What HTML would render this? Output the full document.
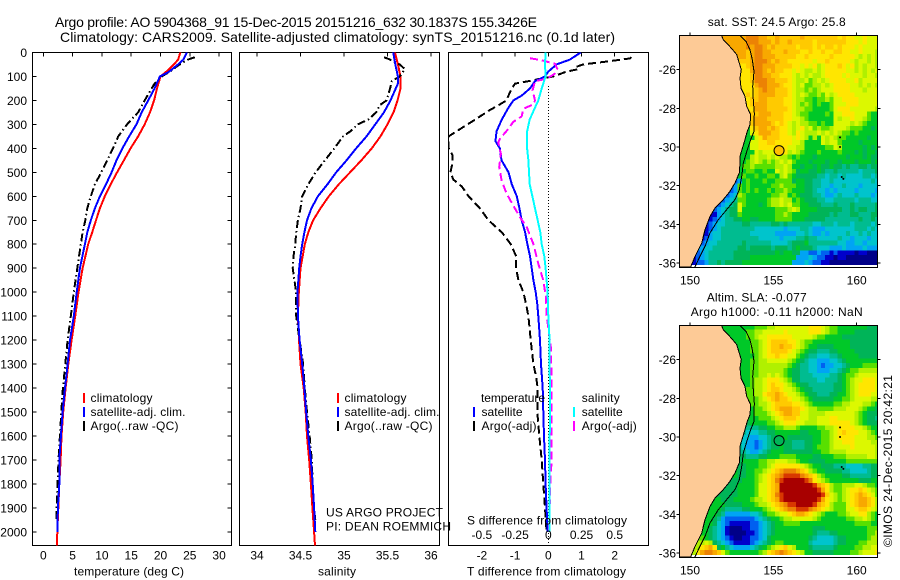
<!DOCTYPE html>
<html>
<head>
<meta charset="utf-8">
<title>Argo profile</title>
<style>
html,body{margin:0;padding:0;background:#fff;}
svg{display:block;}
text{font-family:"Liberation Sans",sans-serif;font-size:12px;fill:#000;}
.t14{font-size:14px;}
</style>
</head>
<body>
<svg id="chart" xmlns="http://www.w3.org/2000/svg" width="900" height="580" viewBox="0 0 900 580">
<defs>
<clipPath id="clip-p1"><rect x="32.5" y="52.5" width="199" height="493"/></clipPath>
<clipPath id="clip-p2"><rect x="239.5" y="52.5" width="200" height="493"/></clipPath>
<clipPath id="clip-p3"><rect x="448.5" y="52.5" width="200" height="493"/></clipPath>
<clipPath id="clip-m1"><rect x="679.5" y="35.5" width="198" height="232"/></clipPath>
<clipPath id="clip-m2"><rect x="679.5" y="325.5" width="198" height="232"/></clipPath>
</defs>
<rect x="0" y="0" width="900" height="580" fill="#fff"/>
<text class="t14" x="55" y="27" textLength="482">Argo profile: AO 5904368_91 15-Dec-2015 20151216_632 30.1837S 155.3426E</text>
<text class="t14" x="60" y="42" textLength="555">Climatology: CARS2009. Satellite-adjusted climatology: synTS_20151216.nc (0.1d later)</text>
<g id="layer-p1"></g>
<g id="layer-p2"></g>
<g id="layer-p3"></g>
<g id="layer-m1"></g>
<g id="layer-m2"></g>
<g id="labels">
<text x="74" y="575.5" textLength="110">temperature (deg C)</text>
<text x="318" y="575.5" textLength="38">salinity</text>
<text x="467" y="575.5" textLength="159">T difference from climatology</text>
<text x="467" y="524.5" textLength="160">S difference from climatology</text>
<text x="326" y="516.5" textLength="117">US ARGO PROJECT</text>
<text x="326" y="530.5" textLength="125">PI: DEAN ROEMMICH</text>
<text x="707.7" y="26" textLength="138">sat. SST: 24.5 Argo: 25.8</text>
<text x="706.7" y="301.5" textLength="100">Altim. SLA: -0.077</text>
<text x="690.7" y="316" textLength="172">Argo h1000: -0.11 h2000: NaN</text>
<text transform="translate(892,547) rotate(-90)" textLength="172">©IMOS 24-Dec-2015 20:42:21</text>
<g>
<rect x="83" y="393" width="2" height="10" fill="#ff0000"/>
<rect x="83" y="407" width="2" height="10" fill="#0000ff"/>
<rect x="83" y="421" width="2" height="10" fill="#000"/>
<text x="90.5" y="402" textLength="62">climatology</text>
<text x="90.5" y="416" textLength="95">satellite-adj. clim.</text>
<text x="90.5" y="430" textLength="88">Argo(..raw -QC)</text>
</g>
<g>
<rect x="337" y="393" width="2" height="10" fill="#ff0000"/>
<rect x="337" y="407" width="2" height="10" fill="#0000ff"/>
<rect x="337" y="421" width="2" height="10" fill="#000"/>
<text x="344.5" y="402" textLength="62">climatology</text>
<text x="344.5" y="416" textLength="95">satellite-adj. clim.</text>
<text x="344.5" y="430" textLength="88">Argo(..raw -QC)</text>
</g>
<g>
<text x="481" y="402" textLength="64">temperature</text>
<text x="581.7" y="402" textLength="38">salinity</text>
<rect x="473" y="407" width="2" height="10" fill="#0000ff"/>
<rect x="473" y="421" width="2" height="10" fill="#000"/>
<rect x="573" y="407" width="2" height="10" fill="#00ffff"/>
<rect x="573" y="421" width="2" height="10" fill="#ff00ff"/>
<text x="481.5" y="416" textLength="41">satellite</text>
<text x="481.5" y="430" textLength="55">Argo(-adj)</text>
<text x="581.7" y="416" textLength="41">satellite</text>
<text x="581.7" y="430" textLength="55">Argo(-adj)</text>
</g>
</g>
</svg>
<script>
/* ---------- tick labels ---------- */
const depthTicks = [0,100,200,300,400,500,600,700,800,900,1000,1100,1200,1300,1400,1500,1600,1700,1800,1900,2000];
const tempTicks = [0,5,10,15,20,25,30];
const salTicks = [34,34.5,35,35.5,36];
const tDiffTicks = [-2,-1,0,1,2];
const sDiffTicks = [-0.5,-0.25,0,0.25,0.5];
const lonTicks = [150,155,160];
const latTicks = [-26,-28,-30,-32,-34,-36];

/* ---------- temperature profiles ---------- */
const tempClimDepth = [0,30,50,80,100,150,200,250,300,350,400,450,500,550,600,650,700,750,800,900,1000,1100,1200,1300,1400,1500,1600,1700,1800,1900,2000,2057];
const tempClimValue = [23.4,23.0,22.3,21.0,20.0,19.4,18.9,18.2,17.3,16.2,14.9,13.75,12.6,11.5,10.5,9.66,9.0,8.35,7.67,6.7,6.0,5.45,4.83,4.26,3.8,3.4,3.1,2.95,2.73,2.56,2.39,2.33];
const tempSatDepth = [0,30,50,80,100,150,200,250,300,350,400,450,500,550,600,650,700,750,800,900,1000,1100,1200,1300,1400,1500,1600,1700,1800,1900,2000];
const tempSatValue = [24.5,23.9,23.0,21.5,19.9,19.0,17.9,16.8,15.9,14.66,13.5,12.5,11.65,10.7,9.66,8.8,8.1,7.5,7.1,6.25,5.7,5.2,4.55,4.15,3.7,3.3,3.0,2.73,2.73,2.5,2.39];
const tempArgoDepth = [20,30,50,60,80,100,130,150,200,250,300,350,400,450,500,550,600,650,700,750,800,900,1000,1100,1200,1300,1400,1500,1600,1700,1800,1900,1950];
const tempArgoValue = [25.85,24.7,23.3,22.7,21.6,20.2,19.0,18.5,17.3,16.2,14.3,12.8,11.9,10.9,9.9,8.8,8.1,7.5,7.16,6.7,6.4,5.8,5.2,4.7,4.15,3.75,3.35,3.07,2.84,2.6,2.44,2.27,2.27];

/* ---------- salinity profiles ---------- */
const salClimDepth = [0,50,100,150,200,250,300,350,400,450,500,550,600,650,700,750,800,850,900,1000,1100,1200,1300,1400,1500,1600,1700,1800,1900,2000,2057];
const salClimValue = [35.585,35.62,35.65,35.65,35.615,35.57,35.5,35.42,35.32,35.2,35.07,34.94,34.825,34.73,34.645,34.59,34.55,34.525,34.5,34.48,34.47,34.483,34.5,34.537,34.56,34.575,34.6,34.62,34.637,34.656,34.667];
const salSatDepth = [0,50,100,130,200,250,300,350,400,450,500,550,600,650,700,750,800,850,900,1000,1100,1200,1300,1400,1500,1600,1700,1800,1900,2000];
const salSatValue = [35.565,35.59,35.62,35.62,35.535,35.46,35.36,35.26,35.14,35.03,34.91,34.81,34.70,34.625,34.575,34.545,34.52,34.5,34.485,34.465,34.47,34.49,34.52,34.545,34.565,34.59,34.62,34.64,34.656,34.67];
const salArgoDepth = [20,30,50,70,100,120,150,200,220,250,280,300,330,350,400,450,500,550,600,650,700,750,800,850,900,950,1000,1100,1200,1300,1400,1500,1600,1700,1800,1900,1950];
const salArgoValue = [35.46,35.53,35.64,35.70,35.64,35.55,35.53,35.49,35.41,35.37,35.28,35.16,35.07,34.99,34.89,34.78,34.675,34.59,34.52,34.5,34.47,34.45,34.44,34.42,34.41,34.43,34.45,34.45,34.49,34.53,34.55,34.575,34.605,34.63,34.64,34.655,34.67];

/* ---------- differences from climatology ---------- */
const dtSatDepth = [0,30,50,80,100,120,150,180,200,230,280,330,370,400,450,500,550,600,650,700,750,800,850,900,950,1000,1050,1100,1200,1300,1400,1500,1600,1700,1800,1900,2000];
const dtSatValue = [0.98,0.65,0.25,0,-0.1,-0.4,-0.55,-0.8,-1.05,-1.2,-1.4,-1.56,-1.59,-1.46,-1.41,-1.2,-1.1,-0.95,-0.87,-0.8,-0.7,-0.63,-0.55,-0.5,-0.45,-0.38,-0.33,-0.3,-0.25,-0.22,-0.17,-0.15,-0.13,-0.1,-0.08,-0.05,-0.02];
const dtArgoDepth = [20,25,30,40,50,60,70,80,100,110,120,130,150,180,200,220,240,280,320,350,400,430,470,500,530,560,600,650,700,750,800,850,900,950,1000,1050,1100,1200,1300,1350,1400,1500,1600,1700,1800,1900,2000];
const dtArgoValue = [2.5,2.46,2.2,1.65,1.05,0.85,0.9,0.55,0.15,-0.25,-0.6,-1.0,-1.1,-1.2,-1.26,-1.5,-1.76,-2.2,-2.66,-3.0,-3.0,-2.88,-2.9,-2.95,-2.86,-2.6,-2.4,-2.06,-1.8,-1.4,-1.13,-0.97,-0.97,-0.9,-0.75,-0.67,-0.6,-0.53,-0.45,-0.37,-0.32,-0.33,-0.27,-0.2,-0.15,-0.1,-0.05];
const dsSatDepth = [0,50,100,150,200,230,280,330,400,450,500,550,600,650,700,750,800,850,900,1000,1100,1200,1500,1800,2000];
const dsSatValue = [-0.02,-0.025,-0.02,-0.05,-0.075,-0.1,-0.14,-0.16,-0.16,-0.15,-0.145,-0.14,-0.12,-0.1,-0.08,-0.06,-0.05,-0.03,-0.02,-0.005,0,0.01,0.012,0.008,0.008];
const dsArgoDepth = [24,33,47,68,89,110,120,158,200,217,235,267,290,318,360,374,423,478,534,589,638,687,728,798,881,951,1020,1100,1235,1400,1500,1700,1800,2000];
const dsArgoValue = [-0.138,-0.05,0.05,0.068,0.05,-0.0125,-0.1,-0.118,-0.1,-0.113,-0.188,-0.2,-0.264,-0.3,-0.364,-0.377,-0.357,-0.37,-0.352,-0.314,-0.264,-0.214,-0.163,-0.113,-0.075,-0.038,-0.018,-0.012,0.02,0.025,0.025,0.025,0.015,0.005];

/* ---------- map geography (lon / lat degrees) ---------- */
const coastLon = [151.88,152.0,152.3,152.56,152.8,152.96,153.08,153.0,153.06,153.3,153.4,153.64,153.6,153.44,153.24,153.0,153.0,152.96,152.7,152.4,152.0,151.5,151.2,150.9,150.7,150.3,150.04];
const coastLat = [-24.2,-24.45,-24.71,-24.97,-25.22,-25.66,-26,-26.43,-26.95,-27.38,-27.9,-28.33,-28.84,-29.19,-29.79,-30.48,-30.83,-31.34,-31.86,-32.29,-32.72,-33.16,-33.59,-34.28,-34.97,-35.66,-36.2];
const isobathLon = [152.96,153.36,153.6,153.74,153.84,153.76,153.8,153.86,153.84,153.64,153.44,153.2,153.1,152.96,152.7,152.2,151.7,151.2,150.9,150.5,150.3];
const isobathLat = [-24.2,-24.53,-24.97,-25.48,-26.09,-26.86,-27.55,-28.24,-29.19,-29.62,-30.14,-30.83,-31.52,-32.21,-32.72,-33.24,-33.76,-34.45,-35.14,-35.83,-36.2];
const islandLon = [159.0,159.0,159.1,159.2];
const islandLat = [-29.5,-30.0,-31.55,-31.65];
const floatLon = [155.3426];
const floatLat = [-30.1837];

/* ---------- SST grid: one char per 0.25 deg cell, '.' = under land ---------- */
const sstRows = [
"..........ddddddeeeddccdcccccdccccccccbcbbaabaaa",
"...........dddddeeedddcdccdcccccbcccccccbbbabaaa",
"............ddddedeedcdcccccbcccbcbccbcbbbabaaaa",
".............dddcdeeddcccdcccbbcbbcbbccbbaabaaa9",
"..............ddcdeedddcccccbbcbbbbbcbbbbba9a9a9",
"...............ccdeeedcdccbbbbbbabbcbbbbba9aa9a9",
"...............bcdeedddccccbbabab9abbbcbab9a9aa9",
"...............bbdeedcdccbbaba99a9abbbbbaa9a9a9a",
"...............bbceeddccbbba9a9a99abbbbabaaa9aa9",
"...............bbceeeddcccba99a89a9abbbbaab9aaaa",
"...............bbbdeedddcbba9a8899a9abbbbaa9a9a9",
"...............bbbcdeddcccba998989aaabbbbaaa9aaa",
"...............bcbcddddcccba9a98898a9abbbbaaaaaa",
"...............bbccddccccbba998878898aabbbbaaaaa",
"................bcdddccccbba989878778aaabbbaaaaa",
"................bbdddcccccba998877778abbbaaaaaa9",
"................7ccdddcccbba988777787aabbbaaa877",
"................7cdddccccbbaa98777777a9aabaa9877",
"................7cddddcbcba9a99887877aaaa9a98777",
"................7bcddcdcbba9ab9a89889aaa98887767",
"................7abdddccbba9ba999a9a9a9887877777",
"................77abdcccbbbaba9797a9a98877777677",
"...............77aabbccbbbbaa97777a9aa8777767777",
"...............77aabbbbcbbaa997777788a9777776767",
"...............777a9aaa9bb9a98777877778777676776",
"..............7779a99a9a998787776777777767776766",
"..............7789a98989a9a877767776776777677767",
"..............78898888899a9776776766766565566566",
"..............77887787 7a9a98677667655655555455 56",
"..............78778778879a8766666554554544445545",
".............23787778778888677665544544444444454",
"............238787777788988877665544344544434444",
"............238787877878898777665443434444344443",
"...........2349877777788997876665543345444544434",
"..........23458877777899a99787666554455555455544",
".........23456a877767899a9a887766655565556555556",
"........234566a777777778889a97777666666556566556",
".......11345668777777778898777766666565556655566",
".......1234556677667777888877766666555555556 5565",
"......1234455556655555665655555544555455 54555545",
"......123455555555444444434445543334444444555454",
"......134455555554444443333344543343444454454544",
".....1234455555555544444344455655444445443 44434",
".....23445555556555555444456667555555544334 4344",
".....34455555566566666566656766654443334333 3433",
"....234555555666666666676776633223221211 11011000",
"...1234555555666677777777777333432211011000000000",
"...1223556566667777777777773334322110000000000000"
];

/* ---------- SLA grid: same layout as the SST grid ---------- */
const slaRows = [
"..........7777777788899aaaaaaaabbba9887777777666",
"...........77777889 9aaaaabaaaaabbba9887777666666",
"............777788 9aabbbbbbaaaaa9887777666666666",
".............7777889abccccbba98877777777766666666",
"..............777889abccdccba98776666777766666666",
"...............77889abccccba987665556677776666666",
"...............77789abbcbbaa876554445567777666667",
"...............778899aaaaa987654433344567777777777",
"...............7788999999987655443233445677788888",
"...............778899999987665544333445678899999",
"...............778899a9a98766555444455678 89aaaaa",
"...............77899abbba98665555445556789aabbba",
"...............77899abcbba987665555556678 9abbbba",
"...............78899abccbaa98766555556678 9abbbba",
"...............78899bccdcbaa9876655566778 9abbbaa",
"...............78889abcdccbaa987666667788 9aaaa99",
"...............788899abccccbba98777778899 aaa9987",
"...............777889abcdddccba99888899 9aaa98776",
"...............7778889abcddccaa9999aaaaaaa987666",
"...............77778889abcccbaa99aaabbaaaa987665",
"...............667777889abbbaa999aaabbbbba987666",
"...............555566778899987777889 9abbbbaa9877",
"...............54445566777777667778 89abcbbbaa987",
"...............44334456677666666778 89abbbbaaa998",
"...............43323456676655566778 89aabbbaaaa99",
"..............543323456676655566788 89aaaabaaaaa9",
"..............5543345677766666667788 9999aaaaaaa9",
"..............66555667778888777766777 8889999 9aa99",
"..............677778899aaa9987766667777788888888",
"..............66777889abbbbbba987766655544445566",
".............76677889abcdeeedcb98776666554444566",
".............7667789abcdeffffedcb9877776655555667",
".............6677789abcefgggggfeba98777777766 6777",
"..........666677778aabcdggggggggfdcb988999aa98877",
"..........666677778aabcdgggggggggfdb9889abbcba98",
"..........666677778aabcefgggggggggfca989abcdcba8",
".........766677778 99abcdfggggggggfdba989abcddcb9",
".........776666777899abcdeffggggfdcb9888abcddcb9",
"........77 6555566777 89abcdeeff fedcba9888 aabccba9",
"......7776 5333333445 7889aabcdd cba9877788 9aabb987",
"......7765 3222222234 5677899aaa aa98777777 8899a987",
"......7764 3211111223 4567788887 7777777777 77888877",
"......7654 3100011223 4567777777 7766677777 77777888",
".....77654 3100001123 4567777777 7765556677 77777889",
".....87654 3210011223 4677777777 7654444566 77777899",
".....9a965 4321111234 5678877777 7544444566 77788999",
"....9bcdb6 7543333456 789abca977 7655555677 778899aa",
"...9bdeedc a877777778 9bcdedcba9 7766666777 7889aaab"
];

/* ---------- axis functions ---------- */
function yDepth(d){ return 52.4 + 0.2398 * d; }
function xTemp(t){ return 43.3 + 5.86 * t; }
function xSal(s){ return 344 + (s - 35) * 87; }
function xTDiff(t){ return 548.3 + 33.2 * t; }
function xSDiff(s){ return xTDiff(s * 4); }
function xLon(l){ return 690 + (l - 150) * 16.67; }
function yLat(lat, top){ return top + 34.7 + (-26 - lat) * 19.33; }

const NS = 'http://www.w3.org/2000/svg';
const palette = {
  '0':'#000088','1':'#0000cc','2':'#0060f0','3':'#00a4f4','4':'#00c4cc','5':'#00bc90',
  '6':'#00b458','7':'#00c828','8':'#58e000','9':'#b0f000','a':'#dcf800','b':'#ffe600',
  'c':'#ffca00','d':'#f8a800','e':'#ec8204','f':'#d83800','g':'#a80000'
};
function make(tag, attrs, parent){
  const e = document.createElementNS(NS, tag);
  for (const k in attrs) e.setAttribute(k, attrs[k]);
  parent.appendChild(e);
  return e;
}
function pathFrom(xs, ys){
  let s = '';
  for (let i = 0; i < xs.length; i++) s += (i ? 'L' : 'M') + xs[i].toFixed(1) + ' ' + ys[i].toFixed(1);
  return s;
}
function profilePath(values, depths, xf){
  return pathFrom(values.map(xf), depths.map(yDepth));
}
function cleanRow(raw){
  /* cells under the land polygon take the first ocean value; the row is padded to the map edge */
  let row = raw.replace(/ /g, '');
  const first = row.replace(/\./g, '')[0];
  row = row.replace(/\./g, first);
  while (row.length < 48) row += row[row.length - 1];
  return row;
}

/* ---------- profile panels ---------- */
function drawPanel(id, clip, x0, x1, ticks, xf, tickFmt, hasDepth){
  const g = document.getElementById(id);
  const frame = make('rect', {x:x0, y:52.5, width:x1-x0, height:493, fill:'#fff', stroke:'#000', 'stroke-width':1, 'shape-rendering':'crispEdges'}, g);
  
  
  ticks.forEach(function(v){
    const tick = make('line', {x1:xf(v), x2:xf(v), y1:52.5, y2:56.5, stroke:'#000', 'shape-rendering':'crispEdges'}, g);
    
    
    const lab = make('text', {x:xf(v), y:559.5, 'text-anchor':'middle'}, g);
    
    
    lab.textContent = tickFmt(v);
  });
  if (hasDepth){
    depthTicks.forEach(function(d){
      const a = make('line', {x1:x0, x2:x0+4, y1:yDepth(d), y2:yDepth(d), stroke:'#000', 'shape-rendering':'crispEdges'}, g);
      
      
      const b = make('line', {x1:x1-4, x2:x1, y1:yDepth(d), y2:yDepth(d), stroke:'#000', 'shape-rendering':'crispEdges'}, g);
      
      
      const lab = make('text', {x:27, y:yDepth(d)+4.5, 'text-anchor':'end'}, g);
      
      
      lab.textContent = d;
    });
  }
  return make('g', {'clip-path':'url(#' + clip + ')'}, g);
}
function series(parent, d, color, dash, name){
  const attrs = {d:d, fill:'none', stroke:color, 'stroke-width':2, 'shape-rendering':'crispEdges', 'stroke-linejoin':'round'};
  if (dash) attrs['stroke-dasharray'] = dash;
  const p = make('path', attrs, parent);
  
  
}

const p1 = drawPanel('layer-p1', 'clip-p1', 32.5, 231.5, tempTicks, xTemp, String, true);


series(p1, profilePath(tempClimValue, tempClimDepth, xTemp), '#ff0000', null, 'temperature-climatology-line');
series(p1, profilePath(tempArgoValue, tempArgoDepth, xTemp), '#000', '8 3 1.5 3', 'temperature-argo-line');
series(p1, profilePath(tempSatValue, tempSatDepth, xTemp), '#0000ff', null, 'temperature-satellite-line');

const p2 = drawPanel('layer-p2', 'clip-p2', 239.5, 439.5, salTicks, xSal, String, false);


series(p2, profilePath(salClimValue, salClimDepth, xSal), '#ff0000', null, 'salinity-climatology-line');
series(p2, profilePath(salArgoValue, salArgoDepth, xSal), '#000', '8 3 1.5 3', 'salinity-argo-line');
series(p2, profilePath(salSatValue, salSatDepth, xSal), '#0000ff', null, 'salinity-satellite-line');

const p3 = drawPanel('layer-p3', 'clip-p3', 448.5, 648.5, tDiffTicks, xTDiff, String, false);


const zeroLine = make('line', {x1:xTDiff(0), x2:xTDiff(0), y1:yDepth(140), y2:545, stroke:'#000', 'stroke-dasharray':'1 2', 'shape-rendering':'crispEdges'}, p3);


series(p3, profilePath(dtArgoValue, dtArgoDepth, xTDiff), '#000', '8 4', 'temperature-diff-argo-line');
series(p3, profilePath(dtSatValue, dtSatDepth, xTDiff), '#0000ff', null, 'temperature-diff-satellite-line');
series(p3, profilePath(dsArgoValue, dsArgoDepth, xSDiff), '#ff00ff', '8 4', 'salinity-diff-argo-line');
series(p3, profilePath(dsSatValue, dsSatDepth, xSDiff), '#00ffff', null, 'salinity-diff-satellite-line');
sDiffTicks.forEach(function(v){
  const lab = make('text', {x:xSDiff(v), y:539, 'text-anchor':'middle'}, document.getElementById('layer-p3'));
  
  
  lab.textContent = String(v);
});

/* ---------- maps ---------- */
function drawMap(id, clip, top, rows, markerFill){
  const g = document.getElementById(id);
  const body = make('g', {'clip-path':'url(#' + clip + ')'}, g);
  const lon0 = 149.36, dLon = 0.25, lat0 = -24.2, dLat = 0.2476;
  const xStep = xLon(lon0 + dLon) - xLon(lon0);
  const yStep = yLat(lat0 - dLat, top) - yLat(lat0, top);
  rows.forEach(function(raw, r){
    const row = cleanRow(raw);
    for (let c = 0; c < row.length; c++){
      const col = palette[row[c]];
      if (!col) continue;
      const cell = make('rect', {x:xLon(lon0 + c * dLon).toFixed(2), y:yLat(lat0 - r * dLat, top).toFixed(2), width:(xStep + 0.3).toFixed(2), height:(yStep + 0.3).toFixed(2), fill:col, 'shape-rendering':'crispEdges'}, body);
      
      
    }
  });
  const landX = [xLon(149.36)].concat(coastLon.map(xLon)).concat([xLon(149.36)]);
  const landY = [yLat(-24.2, top)].concat(coastLat.map(function(v){ return yLat(v, top); })).concat([yLat(-36.2, top)]);
  const land = make('path', {d:pathFrom(landX, landY) + 'Z', fill:'#fdca96', stroke:'#000', 'stroke-width':1, 'shape-rendering':'crispEdges'}, body);
  
  
  const iso = make('path', {d:pathFrom(isobathLon.map(xLon), isobathLat.map(function(v){ return yLat(v, top); })), fill:'none', stroke:'#000', 'stroke-width':1, 'shape-rendering':'crispEdges'}, body);
  
  
  islandLon.forEach(function(l, i){
    const dot = make('circle', {cx:xLon(l), cy:yLat(islandLat[i], top), r:1, fill:'#000'}, body);
    
    
  });
  floatLon.forEach(function(l, i){
    const m = make('circle', {cx:xLon(l), cy:yLat(floatLat[i], top), r:5, fill:markerFill, stroke:'#000', 'stroke-width':1}, body);
    
    
  });
  const frame = make('rect', {x:679.5, y:top+0.5, width:198, height:232, fill:'none', stroke:'#000', 'shape-rendering':'crispEdges'}, g);
  
  
  lonTicks.forEach(function(l){
    const t = make('line', {x1:xLon(l), x2:xLon(l), y1:top-2.5, y2:top+0.5, stroke:'#000', 'shape-rendering':'crispEdges'}, g);
    
    
    const lab = make('text', {x:xLon(l), y:top+249.5, 'text-anchor':'middle'}, g);
    
    
    lab.textContent = l;
  });
  latTicks.forEach(function(v){
    const a = make('line', {x1:676.5, x2:679.5, y1:yLat(v, top), y2:yLat(v, top), stroke:'#000', 'shape-rendering':'crispEdges'}, g);
    
    
    const b = make('line', {x1:877.5, x2:880.5, y1:yLat(v, top), y2:yLat(v, top), stroke:'#000', 'shape-rendering':'crispEdges'}, g);
    
    
    const lab = make('text', {x:676, y:yLat(v, top)+4.5, 'text-anchor':'end'}, g);
    
    
    lab.textContent = v;
  });
}
drawMap('layer-m1', 'clip-m1', 35, sstRows, '#ffc000');
drawMap('layer-m2', 'clip-m2', 325, slaRows, '#00b458');
</script>
</body>
</html>
